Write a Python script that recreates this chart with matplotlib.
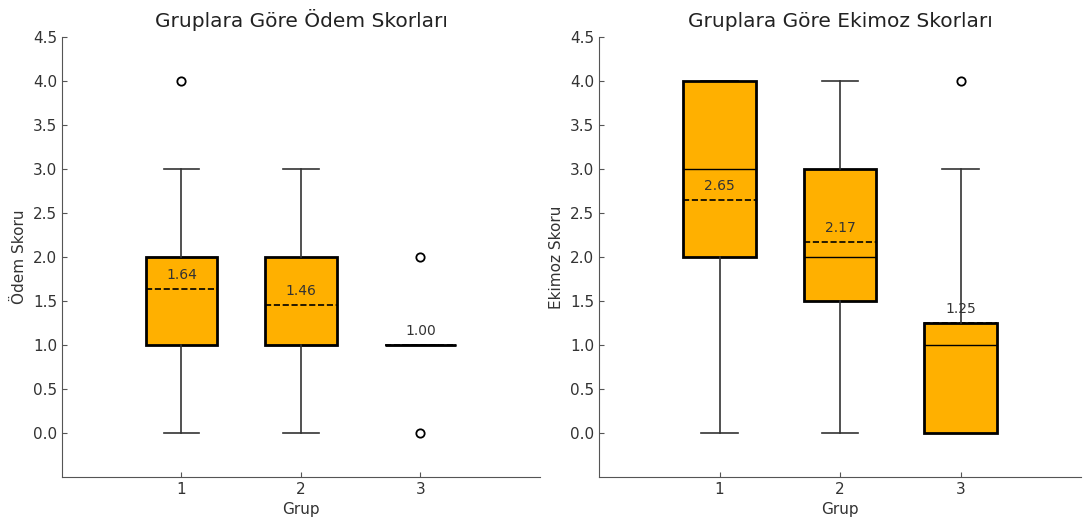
import matplotlib.pyplot as plt

groups = [1, 2, 3]

# Ödem skorları
odem_q1 = [1.0, 1.0, 1.0]
odem_med = [2.0, 1.0, 1.0]
odem_q3 = [2.0, 2.0, 1.0]
odem_lo = [0.0, 0.0, 1.0]
odem_hi = [3.0, 3.0, 1.0]
odem_mean = [1.64, 1.46, 1.00]
odem_fliers = [[4.0], [], [2.0, 0.0]]

# Ekimoz skorları
ekimoz_q1 = [2.0, 1.5, 0.0]
ekimoz_med = [3.0, 2.0, 1.0]
ekimoz_q3 = [4.0, 3.0, 1.25]
ekimoz_lo = [0.0, 0.0, 0.0]
ekimoz_hi = [4.0, 4.0, 3.0]
ekimoz_mean = [2.65, 2.17, 1.25]
ekimoz_fliers = [[], [], [4.0]]

fill = '#FFB000'
txt = '#333333'


def draw(ax, q1, med, q3, lo, hi, mean, fliers, title, ylabel):
    stats = []
    for i in range(len(groups)):
        stats.append(dict(q1=q1[i], med=med[i], q3=q3[i], whislo=lo[i], whishi=hi[i],
                          mean=mean[i], fliers=fliers[i], label=str(groups[i])))
    ax.bxp(stats, positions=groups, widths=0.6, patch_artist=True,
           showmeans=True, meanline=True,
           boxprops=dict(facecolor=fill, edgecolor='black', linewidth=2, zorder=2),
           medianprops=dict(color='black', linewidth=1, zorder=2.2),
           meanprops=dict(color='black', linestyle='--', linewidth=1.2, zorder=2.2),
           whiskerprops=dict(color='#333333', linewidth=1.2, zorder=3),
           capprops=dict(color='#333333', linewidth=1.2, zorder=1.9),
           flierprops=dict(marker='o', markerfacecolor='white', markeredgecolor='black',
                           markersize=6, markeredgewidth=1.3, zorder=3))
    for i, g in enumerate(groups):
        ax.text(g, mean[i] + 0.08, f'{mean[i]:.2f}', ha='center', va='bottom',
                fontsize=10, color=txt, zorder=2.5)
    ax.set_xlim(0, 4)
    ax.set_ylim(-0.5, 4.5)
    ax.set_yticks([0, 0.5, 1, 1.5, 2, 2.5, 3, 3.5, 4, 4.5])
    ax.set_yticklabels([f'{v:.1f}' for v in [0, 0.5, 1, 1.5, 2, 2.5, 3, 3.5, 4, 4.5]])
    ax.set_title(title, fontsize=14.5, color='#222222', pad=7)
    ax.set_xlabel('Grup', fontsize=11, color=txt)
    ax.set_ylabel(ylabel, fontsize=11, color=txt)
    ax.tick_params(direction='in', labelsize=11, labelcolor=txt, color='#555555')
    for s in ['top', 'right']:
        ax.spines[s].set_visible(False)
    for s in ['left', 'bottom']:
        ax.spines[s].set_color('#555555')


fig = plt.figure(figsize=(10.86, 5.2), dpi=100)
ax1 = fig.add_axes([0.0571, 0.0827, 0.4401, 0.846])
ax2 = fig.add_axes([0.5516, 0.0827, 0.4438, 0.846])

draw(ax1, odem_q1, odem_med, odem_q3, odem_lo, odem_hi, odem_mean, odem_fliers,
     'Gruplara Göre Ödem Skorları', 'Ödem Skoru')
draw(ax2, ekimoz_q1, ekimoz_med, ekimoz_q3, ekimoz_lo, ekimoz_hi, ekimoz_mean, ekimoz_fliers,
     'Gruplara Göre Ekimoz Skorları', 'Ekimoz Skoru')

fig.savefig('out.png', dpi=100)
